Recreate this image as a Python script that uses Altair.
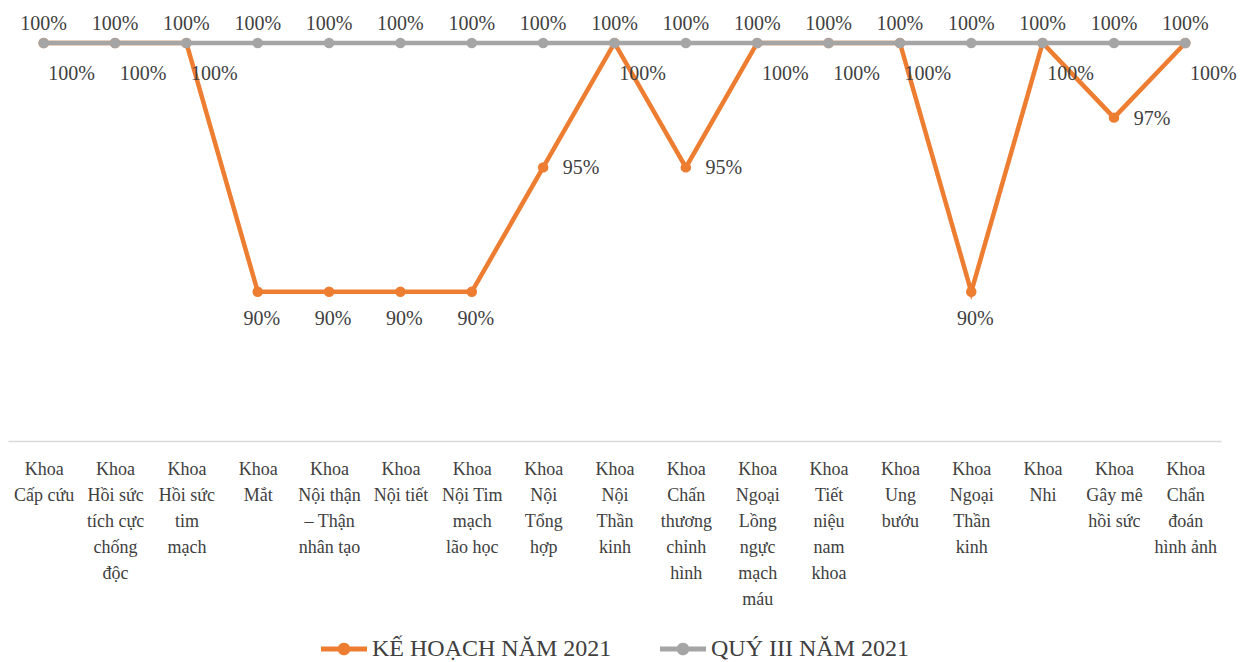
import altair as alt
import pandas as pd

categories = [
    "Khoa|Cấp cứu",
    "Khoa|Hồi sức|tích cực|chống|độc",
    "Khoa|Hồi sức|tim|mạch",
    "Khoa|Mắt",
    "Khoa|Nội thận|– Thận|nhân tạo",
    "Khoa|Nội tiết",
    "Khoa|Nội Tim|mạch|lão học",
    "Khoa|Nội|Tổng|hợp",
    "Khoa|Nội|Thần|kinh",
    "Khoa|Chấn|thương|chỉnh|hình",
    "Khoa|Ngoại|Lồng|ngực|mạch|máu",
    "Khoa|Tiết|niệu|nam|khoa",
    "Khoa|Ung|bướu",
    "Khoa|Ngoại|Thần|kinh",
    "Khoa|Nhi",
    "Khoa|Gây mê|hồi sức",
    "Khoa|Chẩn|đoán|hình ảnh",
]
ke_hoach = [100, 100, 100, 90, 90, 90, 90, 95, 100, 95, 100, 100, 100, 90, 100, 97, 100]
quy_iii = [100] * 17
series_names = ["KẾ HOẠCH NĂM 2021", "QUÝ III NĂM 2021"]
series_colors = ["#ED7D31", "#A5A5A5"]

rows = []
for s, vals in zip(series_names, [ke_hoach, quy_iii]):
    for c, v in zip(categories, vals):
        rows.append({"cat": c, "series": s, "value": v})
df = pd.DataFrame(rows)

FONT = "Liberation Serif"
TXT = "#404040"

x = alt.X(
    "cat:N",
    sort=categories,
    scale=alt.Scale(type="point", padding=0.5),
    axis=alt.Axis(
        title=None,
        labelExpr="split(datum.label, '|')",
        labelAngle=0,
        ticks=False,
        domainColor="#D9D9D9",
        domainWidth=1.5,
        labelFont=FONT,
        labelFontSize=18,
        labelLineHeight=26,
        labelPadding=19,
        labelColor=TXT,
        labelLimit=200,
        labelOverlap=False,
        labelBound=False,
    ),
)
y = alt.Y("value:Q", scale=alt.Scale(domain=[84, 100]), axis=None)

color_scale = alt.Scale(domain=series_names, range=series_colors)

legend_path = ("M-2,-0.22L2,-0.22L2,0.22L-2,0.22Z"
               "M0.55,0A0.55,0.55 0 1,1 -0.55,0A0.55,0.55 0 1,1 0.55,0Z")

base = alt.Chart(df)

def line_layer(i):
    return base.transform_filter(alt.datum.series == series_names[i]).mark_line(
        strokeWidth=4.5, color=series_colors[i]
    ).encode(x=x, y=y)

def point_layer(i):
    return base.transform_filter(alt.datum.series == series_names[i]).mark_circle(
        size=110, opacity=1
    ).encode(
        x=x, y=y,
        fill=alt.Fill(
            "series:N", scale=color_scale,
            legend=alt.Legend(
                title=None, orient="none", direction="horizontal",
                legendX=324, legendY=594,
                symbolType=legend_path, symbolSize=529, symbolStrokeWidth=0,
                symbolOpacity=1,
                labelFont=FONT, labelFontSize=24, labelColor=TXT,
                labelOffset=16, labelLimit=400, columnPadding=48,
            ),
        ),
    )

text_base = base.transform_calculate(label="datum.value + '%'")
tstyle = dict(font=FONT, fontSize=20, color=TXT, baseline="middle", align="center")

gray_lbl = text_base.transform_filter(alt.datum.series == series_names[1]).mark_text(
    dy=-19, **tstyle).encode(x=x, y=y, text="label:N")
org_below = text_base.transform_filter(
    (alt.datum.series == series_names[0]) & (alt.datum.value == 90)
).mark_text(dx=4, dy=27, **tstyle).encode(x=x, y=y, text="label:N")
org_right = text_base.transform_filter(
    (alt.datum.series == series_names[0]) & (alt.datum.value != 90) & (alt.datum.value < 100)
).mark_text(dx=38, dy=1, **tstyle).encode(x=x, y=y, text="label:N")
org_top = text_base.transform_filter(
    (alt.datum.series == series_names[0]) & (alt.datum.value == 100)
).mark_text(dx=28, dy=31, **tstyle).encode(x=x, y=y, text="label:N")

chart = alt.layer(
    line_layer(0),
    point_layer(0),
    line_layer(1),
    point_layer(1),
    gray_lbl, org_below, org_right, org_top,
).properties(
    width=1213, height=398,
    padding={"left": 0, "top": 6, "right": 0, "bottom": 0},
    background="white",
).configure_view(stroke=None)

chart.save("out.html", embed_options={"renderer": "svg", "actions": False})
